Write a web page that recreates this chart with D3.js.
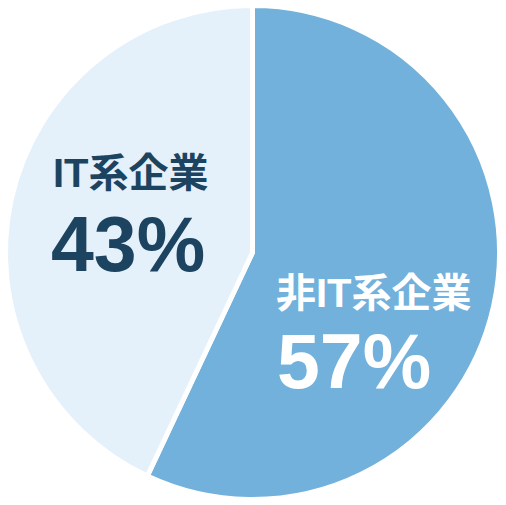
<!DOCTYPE html>
<html>
<head>
<meta charset="utf-8">
<script src="https://cdn.jsdelivr.net/npm/d3@7"></script>
<style>
  body { margin: 0; background: #fff; }
</style>
</head>
<body>
<div class="chart"></div>
<script>
// data
var categories = ["非IT系企業", "IT系企業"];
var values = [57, 43];
var colors = ["#72b1db", "#e4f0fa"];
var textColors = ["#ffffff", "#1c4460"];

var width = 506;
var height = 505;
var cx = 252.5, cy = 252.5;
var radius = 247;

var svg = d3.select(".chart")
            .append("svg")
            .attr("width", width)
            .attr("height", height);

var pie = d3.pie().sort(null).value(d => d);
var arcs = pie(values);
var arc = d3.arc().innerRadius(0).outerRadius(radius);

var g = svg.append("g")
           .attr("transform", "translate(" + cx + "," + cy + ")");

g.selectAll("path")
 .data(arcs)
 .enter()
 .append("path")
 .attr("d", arc)
 .attr("fill", (d, i) => colors[i])
 .attr("stroke", "#fff")
 .attr("stroke-width", 5)
 .attr("stroke-linejoin", "round");

// label anchors (left-aligned text blocks)
var labelPos = [[276, 307, 277, 388], [53, 187, 51, 271]];

categories.forEach(function(c, i) {
  var p = labelPos[i];
  svg.append("text")
     .attr("x", p[0])
     .attr("y", p[1])
     .attr("fill", textColors[i])
     .style("font-family", "'Liberation Sans', 'Noto Sans CJK JP', sans-serif")
     .style("font-weight", 700)
     .style("font-size", "40px")
     .text(c);
  svg.append("text")
     .attr("x", p[2])
     .attr("y", p[3])
     .attr("fill", textColors[i])
     .style("font-family", "'Liberation Sans', Arial, sans-serif")
     .style("font-weight", 700)
     .style("font-size", "77px")
     .text(values[i] + "%");
});
</script>
</body>
</html>
